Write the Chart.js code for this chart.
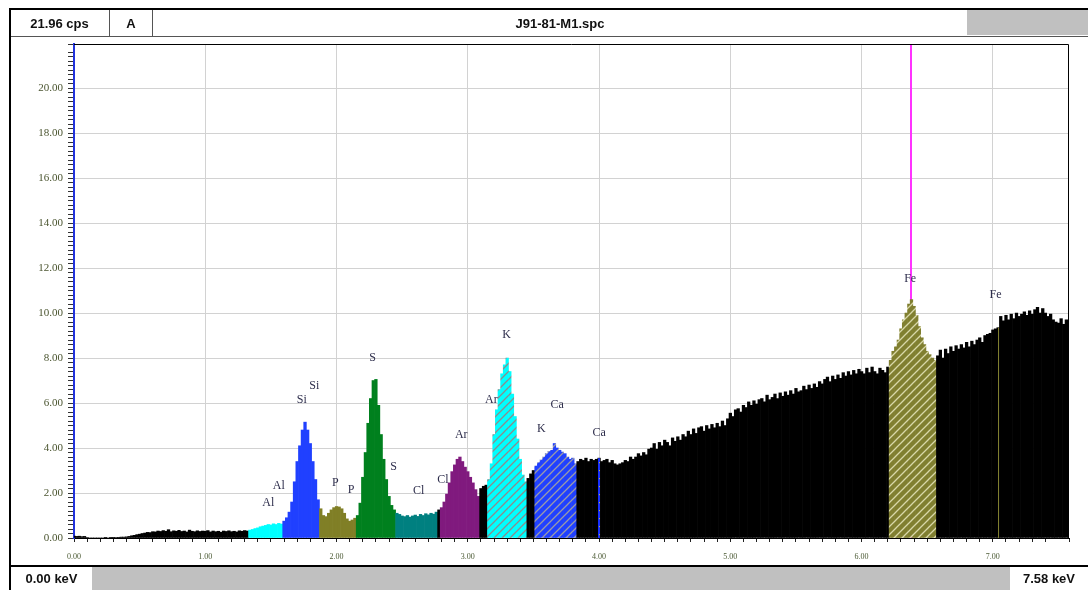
<!DOCTYPE html>
<html>
<head>
<meta charset="utf-8">
<title>J91-81-M1.spc</title>
<script src="https://cdn.jsdelivr.net/npm/chart.js@4.4.1/dist/chart.umd.min.js"></script>
<style>
  body { margin: 0; background: #fff; }
  .frame { position: relative; width: 1088px; height: 590px; overflow: hidden; }
  #spectrum { position: absolute; left: 0; top: 0; }
  .cell {
    position: absolute; box-sizing: border-box;
    font-family: "Liberation Sans Narrow", "Liberation Sans", Arial, sans-serif;
    font-size: 13px; color: #111;
    display: flex; align-items: center; justify-content: center;
  }
  .bar-line { position: absolute; background: #000; }
</style>
</head>
<body>
<div class="frame">
  <canvas id="spectrum" width="1088" height="590"></canvas>

  <!-- header strip -->
  <div class="bar-line" style="left:10px;top:8px;width:1078px;height:2px"></div>
  <div class="bar-line" style="left:10px;top:36px;width:1078px;height:1px;background:#555"></div>
  <div class="cell" style="left:10px;top:10px;width:100px;height:26px;border-right:1px solid #555;font-weight:bold">21.96 cps</div>
  <div class="cell" style="left:110px;top:10px;width:43px;height:26px;border-right:1px solid #555;font-weight:bold">A</div>
  <div class="cell" style="left:153px;top:10px;width:814px;height:26px;font-weight:bold">J91-81-M1.spc</div>
  <div class="cell" style="left:967px;top:10px;width:121px;height:25px;background:#c0c0c0"></div>

  <!-- left frame line -->
  <div class="bar-line" style="left:9px;top:8px;width:2px;height:582px"></div>

  <!-- footer strip -->
  <div class="bar-line" style="left:10px;top:565px;width:1078px;height:2px"></div>
  <div class="cell" style="left:11px;top:567px;width:81px;height:23px;font-family:'Liberation Sans',Arial,sans-serif;font-weight:bold;font-size:13px">0.00 keV</div>
  <div class="cell" style="left:92px;top:567px;width:918px;height:23px;background:#c0c0c0"></div>
  <div class="cell" style="left:1010px;top:567px;width:78px;height:23px;font-family:'Liberation Sans',Arial,sans-serif;font-weight:bold;font-size:13px">7.58 keV</div>
</div>

<script>
// channel width of the spectrum, keV
const channelWidth = 0.02;

// counts per second, one value per 0.02 keV channel from 0.00 to 7.58 keV
const cps = [
  // 0.00 - 0.18
  0.08, 0.07, 0.08, 0.06, 0.07, 0.02, 0, 0, 0, 0,
  // 0.20 - 0.38
  0, 0, 0.01, 0, 0.01, 0.01, 0.02, 0.03, 0.04, 0.04,
  // 0.40 - 0.58
  0.05, 0.07, 0.1, 0.12, 0.15, 0.17, 0.2, 0.22, 0.25, 0.24,
  // 0.60 - 0.78
  0.28, 0.27, 0.31, 0.29, 0.33, 0.3, 0.37, 0.28, 0.32, 0.3,
  // 0.80 - 0.98
  0.34, 0.29, 0.31, 0.27, 0.35, 0.3, 0.28, 0.32, 0.29, 0.31,
  // 1.00 - 1.18
  0.3, 0.33, 0.27, 0.31, 0.28, 0.3, 0.26, 0.31, 0.29, 0.32,
  // 1.20 - 1.32
  0.28, 0.3, 0.27, 0.32, 0.3, 0.33, 0.31,
  // Al 1.34 - 1.58
  0.35, 0.38, 0.42, 0.45, 0.5, 0.53, 0.56, 0.6, 0.58, 0.63, 0.6, 0.65, 0.62,
  // Si 1.60 - 1.86
  0.75, 0.9, 1.15, 1.6, 2.5, 3.4, 4.1, 4.8, 5.15, 4.8, 4.2, 3.4, 2.6, 1.7,
  // P 1.88 - 2.14
  1.3, 1.0, 0.95, 1.1, 1.25, 1.35, 1.4, 1.38, 1.3, 1.1, 0.85, 0.75, 0.8, 0.88,
  // S 2.16 - 2.44
  1.0, 1.55, 2.7, 3.8, 5.1, 6.2, 7.0, 7.05, 5.9, 4.6, 3.5, 2.6, 1.85, 1.45, 1.25,
  // Cl 2.46 - 2.76
  1.1, 1.05, 0.98, 0.95, 1.0, 0.93, 0.98, 1.02, 0.96, 1.05, 1.0, 1.08, 1.03, 1.1, 1.06, 1.15,
  // 2.78
  1.25,
  // Ar 2.80 - 3.08
  1.35, 1.6, 1.95, 2.45, 2.95, 3.25, 3.5, 3.6, 3.4, 3.15, 2.95, 2.7, 2.45, 2.15, 1.85,
  // 3.10 - 3.14
  2.2, 2.3, 2.35,
  // K 3.16 - 3.44
  2.6, 3.3, 4.6, 5.7, 6.6, 7.3, 7.7, 8.0, 7.4, 6.4, 5.4, 4.4, 3.5, 2.8, 2.5,
  // 3.46 - 3.50
  2.65, 2.85, 3.0,
  // Ca 3.52 - 3.82
  3.2, 3.35, 3.47, 3.6, 3.75, 3.85, 3.9, 4.2, 4.0, 3.9, 3.82, 3.75, 3.6, 3.5, 3.55, 3.3,
  // 3.84 - 3.98
  3.4, 3.5, 3.45, 3.55, 3.4, 3.5, 3.45, 3.5,
  // 4.00 - 4.18
  3.55, 3.4, 3.45, 3.5, 3.35, 3.45, 3.3, 3.25, 3.3, 3.35,
  // 4.20 - 4.38
  3.45, 3.4, 3.6, 3.5, 3.6, 3.75, 3.65, 3.8, 3.7, 3.95,
  // 4.40 - 4.58
  4.0, 4.2, 3.95, 4.25, 4.1, 4.35, 4.25, 4.1, 4.45, 4.3,
  // 4.60 - 4.78
  4.5, 4.35, 4.6, 4.5, 4.75, 4.6, 4.85, 4.65, 4.9, 4.95,
  // 4.80 - 4.98
  4.75, 5.0, 4.85, 5.05, 4.9, 5.1, 4.95, 5.2, 5.0, 5.3,
  // 5.00 - 5.18
  5.55, 5.4, 5.7, 5.75, 5.6, 5.9, 5.8, 6.05, 5.9, 6.1,
  // 5.20 - 5.38
  5.95, 6.15, 6.2, 6.05, 6.35, 6.15, 6.25, 6.4, 6.2, 6.45,
  // 5.40 - 5.58
  6.3, 6.5, 6.35, 6.55, 6.4, 6.65, 6.5, 6.55, 6.75, 6.6,
  // 5.60 - 5.78
  6.8, 6.65, 6.85, 6.7, 6.95, 6.85, 7.05, 7.15, 6.95, 7.2,
  // 5.80 - 5.98
  7.05, 7.25, 7.1, 7.35, 7.2, 7.4, 7.25, 7.45, 7.3, 7.5,
  // 6.00 - 6.20
  7.4, 7.3, 7.55, 7.35, 7.6, 7.4, 7.3, 7.55, 7.45, 7.35, 7.6,
  // Fe 6.22 - 6.56
  7.9, 8.3, 8.5, 8.8, 9.3, 9.7, 10.0, 10.4, 10.6, 10.3, 9.9, 9.4, 8.9, 8.6, 8.3, 8.15, 8.0, 7.9,
  // 6.58 - 6.76
  8.1, 8.35, 8.0, 8.4, 8.2, 8.5, 8.3, 8.55, 8.4, 8.6,
  // 6.78 - 6.96
  8.45, 8.7, 8.5, 8.75, 8.6, 8.8, 8.9, 8.7, 9.0, 9.05,
  // 6.98 - 7.04
  9.1, 9.25, 9.3, 9.35,
  // 7.06 - 7.24
  9.85, 9.65, 9.9, 9.7, 9.95, 9.75, 10.0, 9.85, 9.95, 10.05,
  // 7.26 - 7.44
  9.9, 10.1, 9.95, 10.15, 10.25, 10.0, 10.2, 10.0, 9.85, 9.95,
  // 7.46 - 7.58
  9.7, 9.6, 9.55, 9.75, 9.5, 9.7, 9.6
];
const channelKeV = cps.map((v, i) => i * channelWidth);

// regions of interest (keV)
const roiFrom = [1.34, 1.60, 1.88, 2.16, 2.46, 2.80, 3.16, 3.52, 6.22];
const roiTo = [1.58, 1.86, 2.14, 2.44, 2.76, 3.08, 3.44, 3.82, 6.56];
const roiElement = ["Al", "Si", "P", "S", "Cl", "Ar", "K", "Ca", "Fe"];

// peak labels
const peakLabels = ["Al", "Al", "Si", "Si", "P", "P", "S", "S", "Cl", "Cl", "Ar", "Ar", "K", "K", "Ca", "Ca", "Fe", "Fe"];
const peakLabelKeV = [1.48, 1.56, 1.735, 1.83, 1.99, 2.11, 2.275, 2.435, 2.625, 2.81, 2.95, 3.18, 3.295, 3.56, 3.68, 4.0, 6.37, 7.02];
const peakLabelCps = [1.56, 2.31, 6.13, 6.76, 2.44, 2.13, 8.0, 3.16, 2.09, 2.58, 4.58, 6.13, 9.02, 4.84, 5.91, 4.67, 11.51, 10.8];

// KLM marker lines (keV)
const caMarkerKeV = 4.0;
const feMarkerKeV = 6.38;
const feBetaKeV = 7.04;

const canvas = document.getElementById("spectrum");
const ctx2d = canvas.getContext("2d");

function hatch(fill, line) {
  const p = document.createElement("canvas");
  p.width = 8;
  p.height = 8;
  const g = p.getContext("2d");
  g.fillStyle = fill;
  g.fillRect(0, 0, 8, 8);
  g.strokeStyle = line;
  g.lineWidth = 1.3;
  g.beginPath();
  g.moveTo(0, 8); g.lineTo(8, 0);
  g.moveTo(-1, 1); g.lineTo(1, -1);
  g.moveTo(7, 9); g.lineTo(9, 7);
  g.stroke();
  return ctx2d.createPattern(p, "repeat");
}

const roiFill = {
  Al: "#00ffff",
  Si: "#2040ff",
  P: "#807f26",
  S: "#00801e",
  Cl: "#008080",
  Ar: "#801a7e",
  K: hatch("#00ffff", "#8c8c8c"),
  Ca: hatch("#2040ff", "#9a9aa8"),
  Fe: hatch("#807f30", "#d8d8a8"),
};

function fillFor(keV) {
  for (let r = 0; r < roiFrom.length; r++) {
    if (keV >= roiFrom[r] - 0.005 && keV <= roiTo[r] + 0.005) return roiFill[roiElement[r]];
  }
  return "#000000";
}

function isMultiple(v, step) {
  const q = v / step;
  return Math.abs(q - Math.round(q)) < 1e-6;
}

function cpsAt(keV) {
  return cps[Math.round(keV / channelWidth)];
}

const overlays = {
  id: "overlays",
  beforeDatasetsDraw(chart) {
    const { ctx, chartArea, scales } = chart;
    const x = Math.round(scales.x.getPixelForValue(feMarkerKeV));
    ctx.save();
    ctx.strokeStyle = "#ff33ff";
    ctx.lineWidth = 2;
    ctx.beginPath();
    ctx.moveTo(x, chartArea.top);
    ctx.lineTo(x, chartArea.bottom);
    ctx.stroke();
    ctx.restore();
  },
  afterDatasetsDraw(chart) {
    const { ctx, chartArea, scales } = chart;
    ctx.save();

    // Ca marker, blue with yellow dots
    let x = Math.round(scales.x.getPixelForValue(caMarkerKeV));
    let top = scales.y.getPixelForValue(cpsAt(caMarkerKeV));
    ctx.strokeStyle = "#1830ff";
    ctx.lineWidth = 2;
    ctx.beginPath();
    ctx.moveTo(x, top);
    ctx.lineTo(x, chartArea.bottom);
    ctx.stroke();
    ctx.strokeStyle = "#d8c820";
    ctx.lineWidth = 1;
    ctx.setLineDash([1, 7]);
    ctx.beginPath();
    ctx.moveTo(x + 0.5, top + 4);
    ctx.lineTo(x + 0.5, chartArea.bottom);
    ctx.stroke();
    ctx.setLineDash([]);

    // Fe beta marker, thin olive
    x = Math.round(scales.x.getPixelForValue(feBetaKeV)) + 0.5;
    top = scales.y.getPixelForValue(cpsAt(feBetaKeV));
    ctx.strokeStyle = "#807f30";
    ctx.lineWidth = 1;
    ctx.beginPath();
    ctx.moveTo(x, top);
    ctx.lineTo(x, chartArea.bottom);
    ctx.stroke();

    // element labels
    ctx.fillStyle = "#2e2e4c";
    ctx.font = "12px 'Liberation Serif', 'DejaVu Serif', serif";
    ctx.textAlign = "center";
    ctx.textBaseline = "middle";
    peakLabels.forEach((name, i) => {
      ctx.fillText(name, scales.x.getPixelForValue(peakLabelKeV[i]), scales.y.getPixelForValue(peakLabelCps[i]));
    });

    // plot frame, top and right
    ctx.strokeStyle = "#000";
    ctx.lineWidth = 1;
    ctx.beginPath();
    ctx.moveTo(chartArea.left, chartArea.top + 0.5);
    ctx.lineTo(chartArea.right - 0.5, chartArea.top + 0.5);
    ctx.lineTo(chartArea.right - 0.5, chartArea.bottom);
    ctx.stroke();
    ctx.restore();
  },
};

new Chart(canvas, {
  type: "bar",
  data: {
    datasets: [
      {
        data: channelKeV.map((k, i) => ({ x: k, y: cps[i] })),
        backgroundColor: (c) => fillFor(channelKeV[c.dataIndex] || 0),
        borderWidth: 0,
        barPercentage: 1,
        categoryPercentage: 1,
      },
    ],
  },
  options: {
    responsive: false,
    animation: false,
    devicePixelRatio: 1,
    layout: { padding: { top: 44, right: 19, left: 0, bottom: 0 } },
    plugins: {
      legend: { display: false },
      tooltip: { enabled: false },
    },
    scales: {
      x: {
        type: "linear",
        min: 0,
        max: 7.58,
        offset: false,
        afterFit: (s) => { s.height = 52; },
        border: { color: "#000", width: 1 },
        grid: {
          offset: false,
          color: (c) => (c.tick && c.tick.value > 0.01 && isMultiple(c.tick.value, 1) ? "#d2d2d2" : "rgba(0,0,0,0)"),
          tickColor: "#222",
          tickLength: 4,
        },
        ticks: {
          stepSize: 0.1,
          autoSkip: false,
          maxRotation: 0,
          padding: 10,
          color: "#4b5a34",
          font: { family: "'Liberation Serif', serif", size: 8 },
          callback: (v) => (isMultiple(v, 1) ? Number(v).toFixed(2) : ""),
        },
      },
      y: {
        min: 0,
        max: 21.96,
        afterFit: (s) => { s.width = 74; },
        border: { color: "#2233dd", width: 2 },
        grid: {
          color: (c) => (c.tick && c.tick.value > 0.01 && isMultiple(c.tick.value, 2) ? "#d2d2d2" : "rgba(0,0,0,0)"),
          tickColor: "#333",
          tickLength: 6,
        },
        ticks: {
          stepSize: 0.2,
          autoSkip: false,
          padding: 5,
          color: "#4b5530",
          font: { family: "'Liberation Serif', serif", size: 11 },
          callback: (v) => (isMultiple(v, 2) ? Number(v).toFixed(2) : ""),
        },
      },
    },
  },
  plugins: [overlays],
});
</script>
</body>
</html>
